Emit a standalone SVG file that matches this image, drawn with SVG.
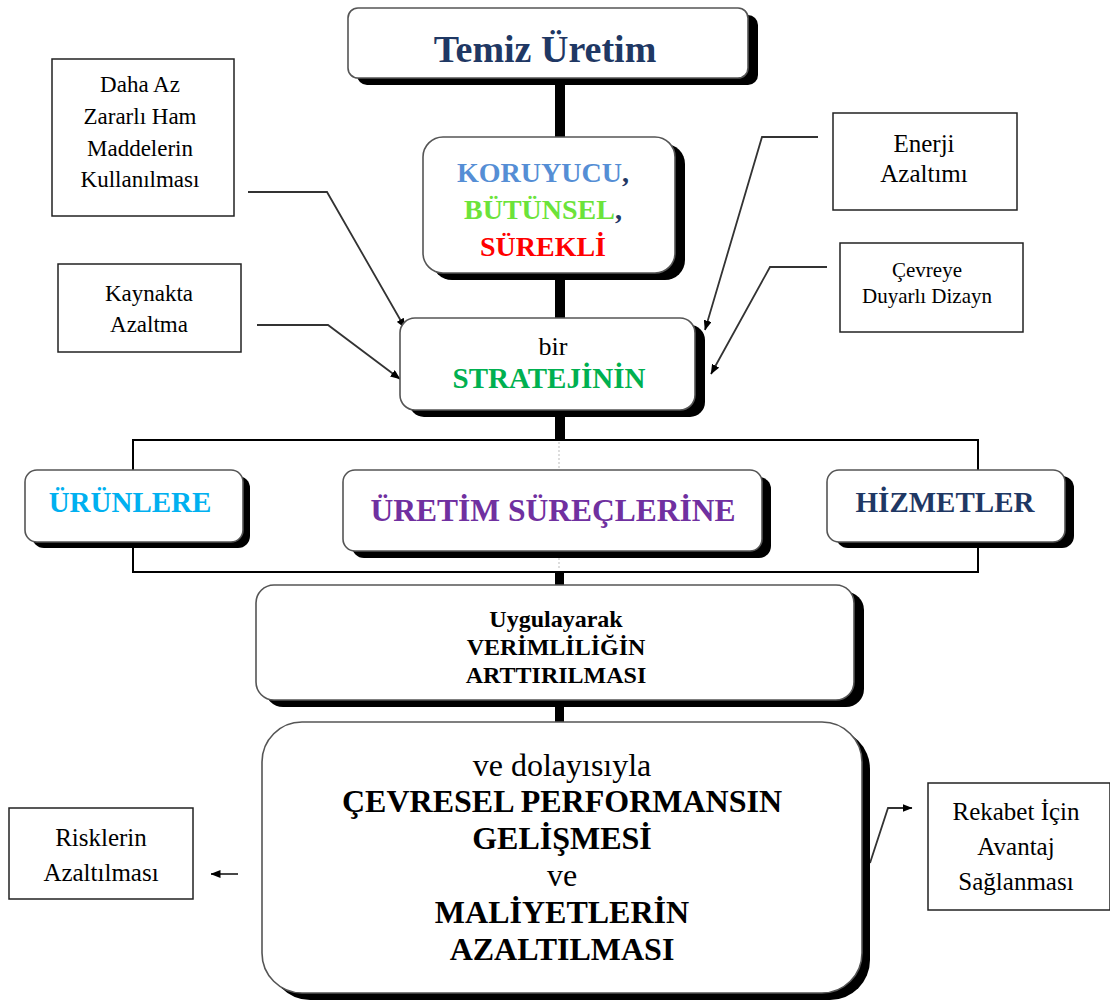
<svg xmlns="http://www.w3.org/2000/svg" width="1110" height="1005" viewBox="0 0 1110 1005">
  <defs>
    <marker id="tip" viewBox="0 0 10 8" refX="9.5" refY="4" markerWidth="10" markerHeight="8" markerUnits="userSpaceOnUse" orient="auto">
      <path d="M0,0 L10,4 L0,8 Z" fill="#000"/>
    </marker>
  </defs>
  <style>
    .serif { font-family: "Liberation Serif", "Times New Roman", serif; }
    .b { font-weight: bold; }
    .shadow { fill: #000; }
    .card { fill: #fff; stroke: #555; stroke-width: 1.6; }
    .note { fill: #fff; stroke: #222; stroke-width: 1.5; }
    .link { fill: none; stroke: #333; stroke-width: 1.8; marker-end: url(#tip); }
    .bar { fill: #000; }
    text { text-anchor: middle; }
  </style>
  <rect width="1110" height="1005" fill="#fff"/>

  <!-- trunk bars and the bracket that spans the three targets -->
  <g id="connectors">
    <rect class="bar" x="555" y="80" width="10" height="60"/>
    <rect class="bar" x="555" y="275" width="10" height="45"/>
    <rect class="bar" x="555" y="410" width="10" height="31"/>
    <rect x="133" y="440" width="845" height="132" fill="none" stroke="#000" stroke-width="2"/>
    <line x1="559" y1="442" x2="559" y2="570" stroke="#bbb" stroke-width="1" stroke-dasharray="2,2"/>
    <rect class="bar" x="555" y="572" width="9" height="15"/>
    <rect class="bar" x="555" y="700" width="9" height="24"/>
    <path class="link" d="M248,192 H327 L405,328"/>
    <path class="link" d="M257,325 H328 L400,379"/>
    <path class="link" d="M818,137 H762 L705,330"/>
    <path class="link" d="M827,267 H770 L711,374"/>
    <path class="link" d="M238,874 H211"/>
    <path class="link" d="M870,863 L888,808 H912"/>
  </g>

  <g id="temiz-uretim">
    <rect class="shadow" x="357" y="15" width="401" height="70" rx="10"/>
    <rect class="card" x="348" y="8" width="400" height="70" rx="10"/>
    <text class="serif b" x="545" y="62" font-size="38" fill="#1F3864">Temiz Üretim</text>
  </g>

  <g id="ilkeler">
    <rect class="shadow" x="432" y="144" width="253" height="136" rx="20"/>
    <rect class="card" x="423" y="137" width="252" height="136" rx="20"/>
    <text class="serif b" x="543" y="182" font-size="28"><tspan fill="#558ED5">KORUYUCU</tspan><tspan fill="#1F3864">,</tspan></text>
    <text class="serif b" x="543" y="219" font-size="28"><tspan fill="#6CE33A">BÜTÜNSEL</tspan><tspan fill="#1F3864">,</tspan></text>
    <text class="serif b" x="543" y="256" font-size="28" fill="#FF0000">SÜREKLİ</text>
  </g>

  <g id="strateji">
    <rect class="shadow" x="409" y="325" width="296" height="92" rx="15"/>
    <rect class="card" x="400" y="318" width="295" height="92" rx="15"/>
    <text class="serif" x="553" y="355" font-size="26" fill="#000">bir</text>
    <text class="serif b" x="549" y="388" font-size="29" fill="#00B050">STRATEJİNİN</text>
  </g>

  <g id="daha-az-zararli">
    <rect class="note" x="52" y="59" width="182" height="157"/>
    <text class="serif" x="140" y="92" font-size="23">Daha Az</text>
    <text class="serif" x="140" y="124" font-size="23">Zararlı Ham</text>
    <text class="serif" x="140" y="156" font-size="23">Maddelerin</text>
    <text class="serif" x="140" y="187" font-size="23">Kullanılması</text>
  </g>

  <g id="kaynakta-azaltma">
    <rect class="note" x="58" y="264" width="183" height="88"/>
    <text class="serif" x="149" y="301" font-size="23">Kaynakta</text>
    <text class="serif" x="149" y="332" font-size="23">Azaltma</text>
  </g>

  <g id="enerji-azaltimi">
    <rect class="note" x="833" y="113" width="184" height="97"/>
    <text class="serif" x="924" y="152" font-size="25">Enerji</text>
    <text class="serif" x="924" y="182" font-size="25">Azaltımı</text>
  </g>

  <g id="cevreye-duyarli">
    <rect class="note" x="840" y="243" width="183" height="89"/>
    <text class="serif" x="927" y="277" font-size="21">Çevreye</text>
    <text class="serif" x="927" y="303" font-size="21">Duyarlı Dizayn</text>
  </g>

  <g id="urunlere">
    <rect class="shadow" x="32" y="476" width="218" height="72" rx="12"/>
    <rect class="card" x="25" y="470" width="218" height="72" rx="12"/>
    <text class="serif b" x="130" y="512" font-size="29" fill="#00B0F0">ÜRÜNLERE</text>
  </g>

  <g id="uretim-surecleri">
    <rect class="shadow" x="352" y="477" width="419" height="81" rx="12"/>
    <rect class="card" x="343" y="470" width="419" height="81" rx="12"/>
    <text class="serif b" x="553" y="521" font-size="31.5" fill="#7030A0">ÜRETİM SÜREÇLERİNE</text>
  </g>

  <g id="hizmetler">
    <rect class="shadow" x="836" y="476" width="238" height="72" rx="12"/>
    <rect class="card" x="827" y="470" width="238" height="72" rx="12"/>
    <text class="serif b" x="945" y="512" font-size="29" fill="#1F3864">HİZMETLER</text>
  </g>

  <g id="verimlilik">
    <rect class="shadow" x="265" y="592" width="599" height="115" rx="18"/>
    <rect class="card" x="256" y="585" width="598" height="115" rx="18"/>
    <text class="serif b" x="556" y="627" font-size="24" fill="#000">Uygulayarak</text>
    <text class="serif b" x="556" y="655" font-size="24" fill="#000">VERİMLİLİĞİN</text>
    <text class="serif b" x="556" y="683" font-size="24" fill="#000">ARTTIRILMASI</text>
  </g>

  <g id="sonuc">
    <rect class="shadow" x="270" y="729" width="600" height="271" rx="40"/>
    <rect class="card" x="262" y="722" width="600" height="271" rx="40"/>
    <text class="serif" x="562" y="776" font-size="32" fill="#000">ve dolayısıyla</text>
    <text class="serif b" x="562" y="812" font-size="32" fill="#000">ÇEVRESEL PERFORMANSIN</text>
    <text class="serif b" x="562" y="849" font-size="32" fill="#000">GELİŞMESİ</text>
    <text class="serif" x="562" y="886" font-size="32" fill="#000">ve</text>
    <text class="serif b" x="562" y="923" font-size="32" fill="#000">MALİYETLERİN</text>
    <text class="serif b" x="562" y="960" font-size="32" fill="#000">AZALTILMASI</text>
  </g>

  <g id="risklerin-azaltilmasi">
    <rect class="note" x="9" y="808" width="184" height="91"/>
    <text class="serif" x="101" y="846" font-size="25">Risklerin</text>
    <text class="serif" x="101" y="881" font-size="25">Azaltılması</text>
  </g>

  <g id="rekabet-avantaji">
    <rect class="note" x="928" y="783" width="182" height="127"/>
    <text class="serif" x="1016" y="820" font-size="25">Rekabet İçin</text>
    <text class="serif" x="1016" y="855" font-size="25">Avantaj</text>
    <text class="serif" x="1016" y="890" font-size="25">Sağlanması</text>
  </g>
</svg>
